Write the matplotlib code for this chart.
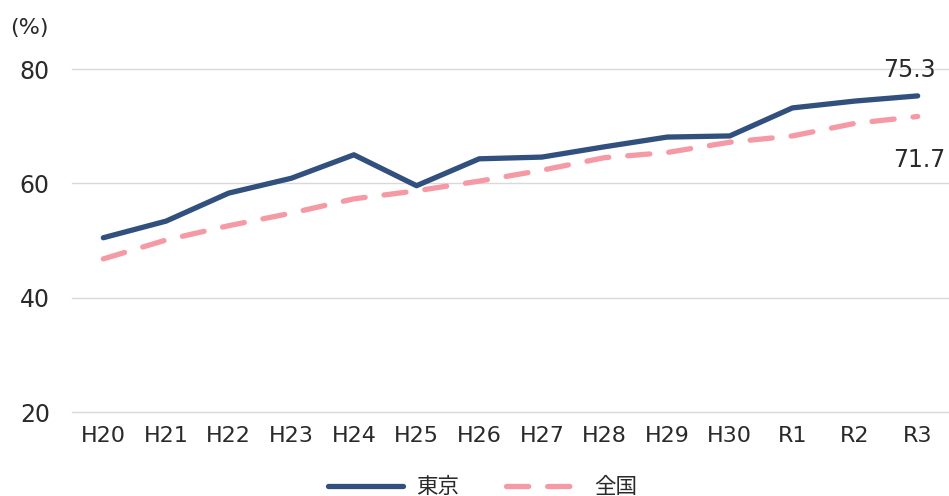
import matplotlib
matplotlib.use("Agg")
import matplotlib.pyplot as plt

plt.rcParams['font.family'] = ['DejaVu Sans', 'Noto Sans CJK JP']

years = ['H20', 'H21', 'H22', 'H23', 'H24', 'H25', 'H26', 'H27', 'H28',
         'H29', 'H30', 'R1', 'R2', 'R3']
tokyo = [50.5, 53.4, 58.3, 60.9, 65.0, 59.6, 64.3, 64.6, 66.4, 68.1, 68.3,
         73.2, 74.4, 75.3]
zenkoku = [46.8, 50.1, 52.6, 54.8, 57.3, 58.7, 60.4, 62.3, 64.5, 65.4, 67.2,
           68.3, 70.5, 71.7]

navy = '#31507e'
pink = '#f59aa5'
txt = '#2a2a2a'

fig = plt.figure(figsize=(9.49, 4.96), dpi=100)
ax = fig.add_axes([72 / 949, 0.169, 1 - 72 / 949, 0.7495])

x = range(len(years))
ax.plot(x, tokyo, color=navy, lw=3.8, solid_capstyle='round',
        solid_joinstyle='round', label='東京', zorder=3)
ax.plot(x, zenkoku, color=pink, lw=3.8, dashes=(4.2, 3.6),
        dash_capstyle='round', label='全国', zorder=2)

# value labels at the last year
ax.annotate(f'{tokyo[-1]}', (x[-1], tokyo[-1]), xytext=(-6, 13.5),
            textcoords='offset points', ha='center', va='baseline',
            fontsize=17, color=txt)
ax.annotate(f'{zenkoku[-1]}', (x[-1], zenkoku[-1]), xytext=(1, -36.5),
            textcoords='offset points', ha='center', va='baseline',
            fontsize=17, color=txt)

ax.set_xlim(-0.5, 13.5)
ax.set_ylim(20, 85)
ax.set_yticks([20, 40, 60, 80])
ax.set_xticks(list(x))
ax.set_xticklabels(years)
ax.grid(axis='y', color='#d9d9d9', lw=1)
for gl in ax.get_ygridlines():
    gl.set_clip_on(False)
ax.set_axisbelow(True)
for s in ax.spines.values():
    s.set_visible(False)
ax.tick_params(length=0, colors=txt)
ax.tick_params(axis='y', pad=16, labelsize=17)
ax.tick_params(axis='x', pad=10, labelsize=16)

fig.text(29 / 949, 1 - 28 / 496, '(%)', ha='center', va='center',
         fontsize=16, color=txt)

leg = fig.legend(loc='center', bbox_to_anchor=(0.5 + 8 / 949, 1 - 487 / 496),
                 ncol=2, frameon=False, fontsize=15.5, handlelength=3.5,
                 columnspacing=2.2, handletextpad=0.6)
for t in leg.get_texts():
    t.set_color(txt)

fig.savefig('out.png', dpi=100)
